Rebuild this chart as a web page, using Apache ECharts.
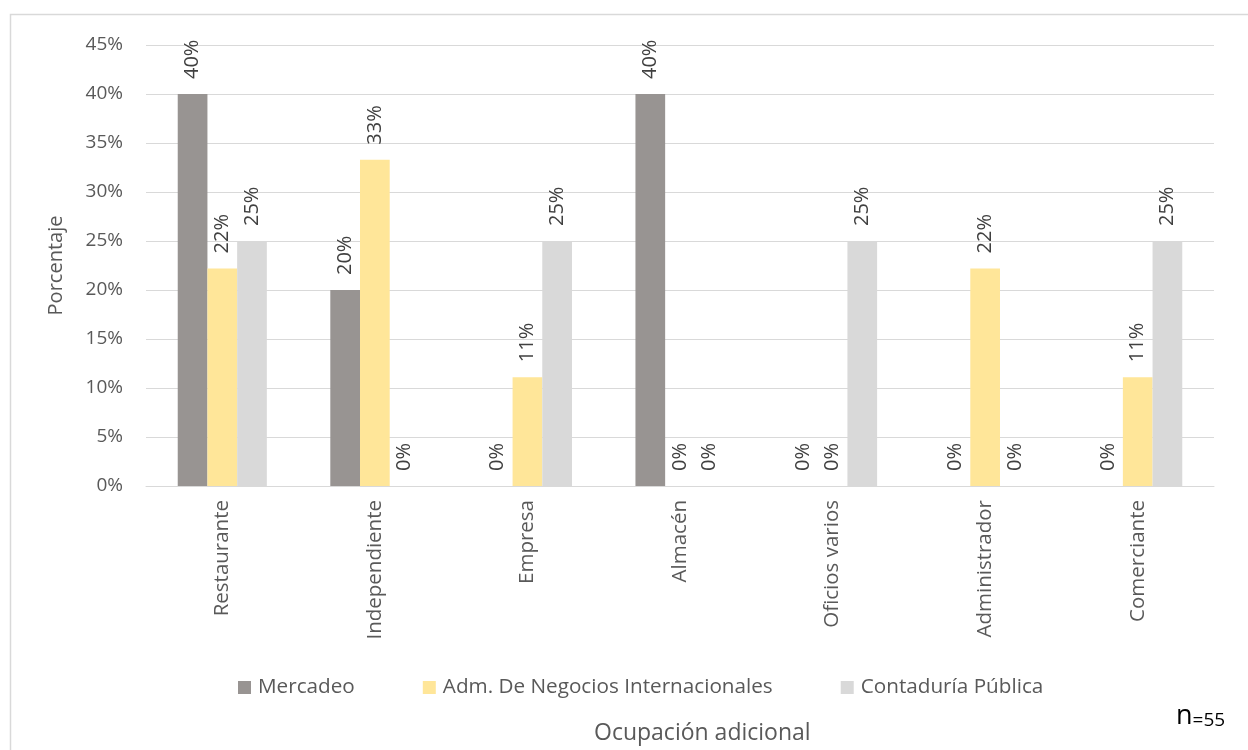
<!DOCTYPE html>
<html>
<head>
<meta charset="utf-8">
<script src="https://cdn.jsdelivr.net/npm/echarts@6/dist/echarts.min.js"></script>
<style>
  html, body { margin: 0; padding: 0; background: #fff; }
  #chart { width: 1248px; height: 750px; }
</style>
</head>
<body>
<div id="chart"></div>
<script>
// Ocupación adicional por programa (porcentaje)
const categories = ['Restaurante', 'Independiente', 'Empresa', 'Almacén', 'Oficios varios', 'Administrador', 'Comerciante'];
const seriesNames = ['Mercadeo', 'Adm. De Negocios Internacionales', 'Contaduría Pública'];
const mercadeo = [40, 20, 0, 40, 0, 0, 0];
const admNegocios = [22.2, 33.3, 11.1, 0, 0, 22.2, 11.1];
const contaduria = [25, 0, 25, 0, 25, 0, 25];
const yTicks = [0, 5, 10, 15, 20, 25, 30, 35, 40, 45];

const colors = ['#989492', '#FFE699', '#D9D9D9'];
const FONT = 'Open Sans';

const chart = echarts.init(document.getElementById('chart'), null, { renderer: 'canvas' });

function makeSeries(name, data, color) {
  return {
    name: name,
    type: 'bar',
    data: data,
    barWidth: 29.7,
    barGap: '0%',
    itemStyle: { color: color },
    label: {
      show: true,
      position: 'top',
      distance: 15,
      rotate: 90,
      align: 'left',
      verticalAlign: 'middle',
      fontFamily: FONT,
      fontSize: 20,
      color: '#404040',
      formatter: p => Math.round(p.value) + '%'
    }
  };
}

chart.setOption({
  animation: false,
  textStyle: { fontFamily: FONT },
  grid: { left: 146, right: 34, top: 45, bottom: 264, containLabel: false },
  legend: {
    data: seriesNames,
    top: 672,
    left: 233,
    itemWidth: 13,
    itemHeight: 13,
    itemGap: 68,
    icon: 'rect',
    textStyle: { fontFamily: FONT, fontSize: 20.7, color: '#595959', padding: [0, 0, 0, 2] }
  },
  xAxis: {
    type: 'category',
    data: categories,
    axisLine: { show: true, lineStyle: { color: '#D9D9D9', width: 1 } },
    axisTick: { show: false },
    axisLabel: {
      rotate: 90,
      margin: 14,
      fontFamily: FONT,
      fontSize: 20.5,
      color: '#595959'
    }
  },
  yAxis: {
    type: 'value',
    min: yTicks[0],
    max: yTicks[yTicks.length - 1],
    interval: 5,
    name: 'Porcentaje',
    nameLocation: 'middle',
    nameGap: 80,
    nameRotate: 90,
    nameTextStyle: { fontFamily: FONT, fontSize: 20, color: '#595959' },
    axisLine: { show: false },
    axisTick: { show: false },
    splitLine: { lineStyle: { color: '#D9D9D9', width: 1 } },
    axisLabel: {
      margin: 23,
      fontFamily: FONT,
      fontSize: 19,
      color: '#595959',
      formatter: v => v + '%'
    }
  },
  graphic: [
    {
      type: 'rect',
      shape: { x: 10.5, y: 14.5, width: 1260, height: 760 },
      style: { fill: 'none', stroke: '#D9D9D9', lineWidth: 1.5 },
      silent: true
    },
    {
      type: 'text',
      left: 594,
      top: 722,
      style: { text: 'Ocupación adicional', font: '23px "' + FONT + '"', fill: '#595959' }
    },
    {
      type: 'text',
      left: 1176,
      top: 703,
      style: {
        text: '{n|n}{r|=55}',
        rich: {
          n: { fontFamily: FONT, fontSize: 27, fill: '#000', verticalAlign: 'bottom' },
          r: { fontFamily: FONT, fontSize: 19, fill: '#000', verticalAlign: 'bottom' }
        }
      }
    }
  ],
  series: [
    makeSeries(seriesNames[0], mercadeo, colors[0]),
    makeSeries(seriesNames[1], admNegocios, colors[1]),
    makeSeries(seriesNames[2], contaduria, colors[2])
  ]
});
</script>
</body>
</html>
